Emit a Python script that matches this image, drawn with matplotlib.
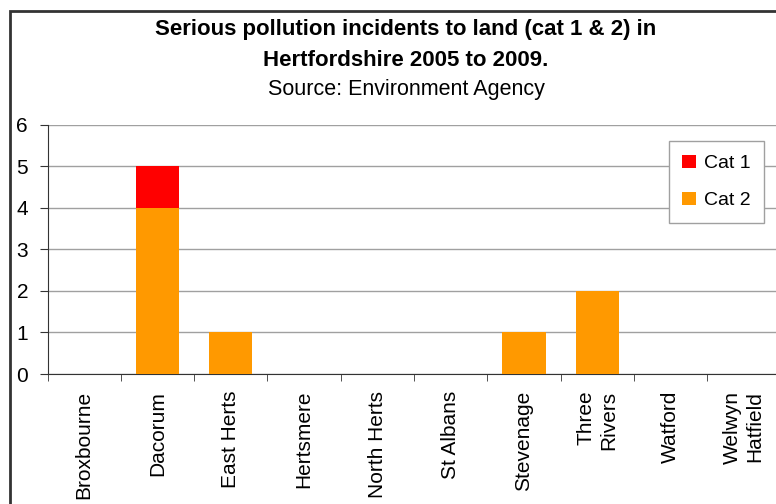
import matplotlib
matplotlib.use("Agg")
import matplotlib.pyplot as plt
from matplotlib.patches import Rectangle

plt.rcParams['font.family'] = ['Liberation Sans', 'DejaVu Sans']

districts = ["Broxbourne", "Dacorum", "East Herts", "Hertsmere", "North Herts",
             "St Albans", "Stevenage", "Three\nRivers", "Watford", "Welwyn\nHatfield"]
cat1 = [0, 1, 0, 0, 0, 0, 0, 0, 0, 0]
cat2 = [0, 4, 1, 0, 0, 0, 1, 2, 0, 0]

fig = plt.figure(figsize=(7.76, 5.04), dpi=100)
# plot area runs slightly past the right edge, like the cropped original
ax = fig.add_axes([47.5 / 776, 130 / 504, 733 / 776, 249.5 / 504])

x = list(range(len(districts)))
b2 = ax.bar(x, cat2, width=0.59, color='#FF9900', label='Cat 2', zorder=3)
b1 = ax.bar(x, cat1, width=0.59, bottom=cat2, color='#FF0000', label='Cat 1', zorder=3)

ax.set_xlim(-0.5, len(districts) - 0.5)
ax.set_ylim(0, 6)
ax.set_yticks(range(0, 7))
ax.yaxis.grid(True, color='#a0a0a0', lw=1, zorder=0)
ax.set_axisbelow(True)

ax.set_xticks(x)
ax.set_xticklabels(districts, rotation=90, ha='center', va='top',
                   multialignment='right', fontsize=15, linespacing=1.25)
ax.set_xticks([i - 0.5 for i in range(len(districts) + 1)], minor=True)
ax.tick_params(axis='x', which='major', length=0, pad=12)
ax.tick_params(axis='x', which='minor', length=5, direction='out', color='#333333')
ax.tick_params(axis='y', length=6, direction='out', labelsize=15, pad=8, color='#333333')

for s in ['top', 'right']:
    ax.spines[s].set_visible(False)
ax.spines['left'].set_color('#333333')
ax.spines['bottom'].set_color('#333333')

leg = ax.legend(handles=[b1, b2], loc='upper right',
                bbox_to_anchor=(764 / 776, 1 - 141 / 504), bbox_transform=fig.transFigure,
                borderaxespad=0, fontsize=14, handlelength=0.7, handleheight=0.7,
                handletextpad=0.4, labelspacing=1.0, borderpad=0.7,
                fancybox=False, framealpha=1, edgecolor='#a0a0a0')
leg.get_frame().set_linewidth(1)

cx = 406 / 776
fig.text(cx, 1 - 30 / 504, "Serious pollution incidents to land (cat 1 & 2) in",
         ha='center', va='center', fontsize=16, fontweight='bold')
fig.text(cx, 1 - 60 / 504, "Hertfordshire 2005 to 2009.",
         ha='center', va='center', fontsize=16, fontweight='bold')
fig.text(cx, 1 - 90 / 504, "Source: Environment Agency",
         ha='center', va='center', fontsize=15.5)

# outer chart border (only left and top visible in the crop)
fig.patches.append(Rectangle((9.5 / 776, -0.1), 2, 1 - 10.5 / 504 + 0.1,
                             transform=fig.transFigure, fill=False,
                             edgecolor='#333333', lw=2))

fig.savefig("out.png", dpi=100)
